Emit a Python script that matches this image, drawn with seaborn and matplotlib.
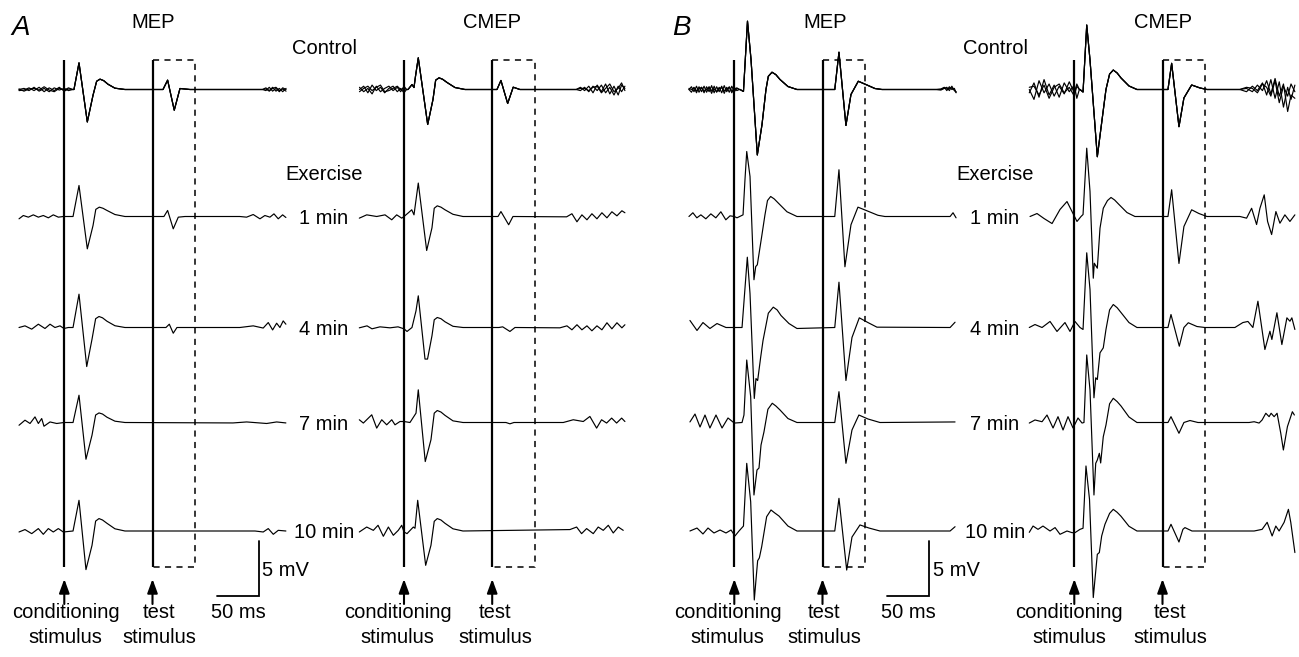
import matplotlib
matplotlib.use("Agg")
import matplotlib.pyplot as plt
import pandas as pd
import seaborn as sns

# ---------------- data (time in ms re conditioning stimulus, amplitude in mV) ----------------
TEST_DELAY = 105.0      # test stimulus (ms after conditioning)
WINDOW_END = 155.5      # end of dashed analysis window (ms)
SCALE_T, SCALE_V = 50, 5

ROWS = ["Control", "1 min", "4 min", "7 min", "10 min"]
PANELS = ["A_MEP", "A_CMEP", "B_MEP", "B_CMEP"]

# ---- Panel A, MEP ----
A_MEP_CTRL_RESP_T = [11.5, 17.5, 27.4, 34.2, 38.5, 42.5, 47, 52, 60.3, 72.2, 117.5, 123, 130.9, 137.7, 149.6]
A_MEP_CTRL_RESP_V = [0, 2.42, -2.95, -0.52, 0.75, 0.94, 0.8, 0.48, 0.12, 0, 0, 0.85, -1.88, 0.09, 0]
A_MEP_CTRL_PRE_T = [-54, -48, -42, -36, -30, -24, -18, -12, -6, 0, 5, 10]
A_MEP_CTRL_PRE_V1 = [0, 0.1, -0.1, 0.2, -0.15, 0.1, -0.2, 0.15, -0.05, 0.1, -0.1, 0]
A_MEP_CTRL_PRE_V2 = [-0.1, -0.05, 0.15, -0.1, 0.2, -0.2, 0.15, -0.1, 0.2, -0.15, 0.05, 0]
A_MEP_CTRL_PRE_V3 = [0.05, -0.15, 0.05, 0.1, -0.05, 0.25, -0.05, -0.2, 0.1, -0.05, 0.15, 0]
A_MEP_CTRL_POST_T = [236, 240, 244, 248, 252, 256, 260, 264]
A_MEP_CTRL_POST_V1 = [0, 0.15, -0.1, 0.2, -0.15, 0.1, -0.2, 0.1]
A_MEP_CTRL_POST_V2 = [0, -0.1, 0.2, -0.15, 0.1, -0.2, 0.15, 0]
A_MEP_CTRL_POST_V3 = [0, 0.05, -0.15, 0.1, 0.2, -0.1, 0.05, -0.15]

A_MEP_1MIN_T = [-53.9, -48.8, -42.8, -36.9, -30.9, -25, -19, -13.1, -7.1, -1.2, 10.4, 17.5, 27.4, 34.2, 37.5, 41.7,
                46, 50.8, 60.3, 72.2, 118.6, 123, 129.7, 135.7, 143.6, 209, 217, 224.9, 232.9, 238.8, 244.8, 249.6,
                254.7, 259.9, 263.8]
A_MEP_1MIN_V = [-0.21, 0.09, -0.06, 0.15, -0.06, 0.09, -0.12, 0.15, -0.06, 0, 0, 2.82, -2.94, -0.82, 0.65, 0.85,
                0.75, 0.55, 0.18, 0, 0, 0.55, -1.12, -0.06, 0, 0, -0.06, 0.18, -0.21, 0.09, -0.06, 0.24, -0.21, 0.15,
                -0.09]
A_MEP_4MIN_T = [-53.9, -46.8, -38.8, -30.9, -23, -17, -11.1, -5.1, -0.4, 4.8, 10.4, 17.5, 26.7, 33, 37.3, 41.3, 45.5,
                50.8, 60.3, 72.2, 121, 125, 129.7, 134.1, 209, 224.9, 236.8, 242.8, 248, 252.8, 256.7, 260.6, 263.8]
A_MEP_4MIN_V = [0, 0.15, -0.15, 0.3, -0.09, 0.3, 0, 0.15, -0.09, 0, 0, 3.03, -3.55, -1.06, 0.8, 1.0, 0.88, 0.57,
                0.16, 0, 0, 0.3, -0.52, 0, 0, 0.15, -0.05, 0.45, -0.22, 0.39, 0, 0.6, 0.3]
A_MEP_7MIN_T = [-53.9, -46.8, -40.8, -34.9, -30.9, -26.9, -24.2, -17, -9, -0.4, 10.4, 17.5, 25.8, 33, 37.3, 41.3,
                45.5, 50.8, 60.3, 72.2, 200.8, 217.1, 240.9, 252.8, 263.8]
A_MEP_7MIN_V = [-0.25, 0.21, -0.09, 0.51, -0.09, 0.36, -0.34, 0.05, -0.09, 0, 0, 2.48, -3.34, -1.15, 0.68, 0.87,
                0.77, 0.48, 0.12, 0, -0.04, 0.05, -0.09, 0.05, -0.04]
A_MEP_10MIN_T = [-53.9, -46.8, -38.8, -30.9, -25, -19, -13.1, -7.1, -1.2, 10.4, 17.5, 25.8, 33, 37.3, 41.3, 45.5,
                 50.8, 60.3, 72.2, 227, 236.8, 242.8, 248.8, 254.7, 263.8]
A_MEP_10MIN_V = [-0.09, 0.13, -0.24, 0.22, -0.3, 0.22, -0.09, 0.22, -0.09, 0, 2.79, -3.51, -1.3, 0.9, 1.13, 1.0,
                 0.7, 0.2, 0, 0, -0.09, 0.22, -0.3, 0.06, 0]

# ---- Panel A, CMEP ----
A_CMEP_CTRL_RESP_T = [4.8, 9.5, 11.9, 13.7, 17, 28.2, 34.5, 37.7, 41.7, 46, 51.2, 60.7, 72.6, 110.7, 115.4, 123.4,
                      130, 138]
A_CMEP_CTRL_RESP_V = [0, 0.45, 0.18, 1.21, 2.88, -3.18, -0.91, 0.85, 1.06, 0.93, 0.64, 0.18, 0, 0, 0.82, -1.27,
                      0.21, 0]
A_CMEP_CTRL_PRE_T = [-53, -48, -43, -38, -33, -28, -23, -18, -13, -8, -4, 0, 3]
A_CMEP_CTRL_PRE_V1 = [0, 0.3, -0.3, 0.4, -0.1, 0.2, -0.3, 0.1, 0.3, -0.2, 0.1, -0.3, 0]
A_CMEP_CTRL_PRE_V2 = [0.2, -0.2, 0.1, -0.4, 0.3, -0.2, 0.1, 0.3, -0.1, 0.2, -0.2, 0.3, 0]
A_CMEP_CTRL_PRE_V3 = [-0.2, 0.1, 0.3, -0.1, 0.2, 0.4, -0.2, -0.1, 0.1, 0.3, 0, 0.1, 0]
A_CMEP_CTRL_POST_T = [205, 210, 215, 220, 225, 230, 235, 240, 245, 250, 255, 259, 263]
A_CMEP_CTRL_POST_V1 = [0, 0.2, -0.1, 0.3, -0.3, 0.4, -0.2, 0.5, -0.4, 0.3, -0.5, 0.4, 0.1]
A_CMEP_CTRL_POST_V2 = [0, -0.1, 0.2, -0.2, 0.3, -0.1, 0.4, -0.3, 0.2, -0.5, 0.3, -0.2, 0.3]
A_CMEP_CTRL_POST_V3 = [0, 0.1, 0.1, -0.1, 0.2, 0.3, -0.3, 0.1, 0.5, -0.2, 0.1, 0.6, -0.1]

A_CMEP_1MIN_T = [-53.2, -44.4, -32.5, -22.6, -14.6, -8.7, -2.7, 0, 4.8, 9.2, 11.9, 17, 27, 33.3, 36, 39.6, 44, 48.8,
                 58.3, 70.2, 111.9, 115.4, 124.6, 129.7, 193.6, 199.9, 205.9, 211.8, 217.8, 223.7, 229.7, 235.6, 241.6,
                 247.5, 253.5, 259.4, 263]
A_CMEP_1MIN_V = [-0.15, 0.15, 0, 0.15, -0.3, 0.15, -0.15, 0, 0.31, 0.61, 0.15, 3.04, -3.09, -1.03, 0.75, 0.97, 0.85,
                 0.61, 0.2, 0, 0, 0.45, -0.75, 0, -0.03, 0.25, -0.48, 0.15, -0.3, 0.25, -0.21, 0.34, -0.12, 0.43,
                 0.06, 0.52, 0.34]
A_CMEP_4MIN_T = [-53.2, -44, -38.1, -28.6, -16.7, -7.1, 0, 3.6, 9.5, 14.3, 17, 25, 28, 33.3, 36, 39.6, 44, 48.8,
                 58.3, 70.2, 113, 117.5, 126.1, 132.1, 185.6, 194, 199.9, 205.9, 211.8, 217.8, 223.7, 229.7, 235.6,
                 241.6, 247.5, 253.5, 259.4, 263]
A_CMEP_4MIN_V = [-0.03, 0.15, -0.12, 0.06, -0.03, 0.06, -0.12, -0.36, 0, 1.52, 2.88, -2.87, -2.87, -0.75, 0.7, 0.91,
                 0.8, 0.52, 0.11, 0, 0, 0.06, -0.36, 0, -0.03, 0.15, -0.21, 0.25, -0.21, 0.15, -0.3, 0.15, -0.21,
                 0.43, -0.12, 0.43, -0.03, 0.25]
A_CMEP_7MIN_T = [-53.2, -48.4, -38.4, -32.5, -26.5, -20.6, -14.6, -10.7, -4.8, 0, 7.1, 14.3, 17, 25.3, 32.1, 36,
                 39.6, 44, 48.8, 58.3, 70.2, 121.4, 126.1, 130.9, 189.6, 201.5, 213.4, 221.3, 229.3, 235.2, 241.2,
                 247.2, 253.1, 259.1, 263]
A_CMEP_7MIN_V = [0.25, -0.05, 0.7, -0.51, 0.25, -0.21, 0.25, -0.21, 0.09, 0.09, 0, 0.85, 2.97, -3.55, -1.57, 0.85,
                 1.09, 0.95, 0.65, 0.15, 0, 0, -0.12, 0, 0, 0.25, 0.09, 0.55, -0.51, 0.25, -0.05, 0.4, -0.05, 0.4,
                 0.09]
A_CMEP_10MIN_T = [-53.2, -44.4, -36.5, -30.9, -24.6, -18.6, -12.7, -6.8, -2.7, 0, 3.6, 11.1, 13.1, 16.3, 25.8, 32.1,
                  36, 39.6, 44, 48.8, 58.3, 70.2, 197.5, 205.5, 211.4, 217.4, 225.3, 231.2, 237.2, 243.2, 249.1,
                  255.1, 261]
A_CMEP_10MIN_V = [-0.09, 0.36, 0.06, 0.52, -0.48, 0.36, -0.39, 0.06, 0.52, -0.09, -0.24, 0.36, 0.25, 2.79, -3.12,
                  -1.3, 0.88, 1.13, 1.0, 0.7, 0.2, 0, 0.13, 0.36, -0.24, 0.22, -0.24, 0.36, 0.06, 0.52, -0.18, 0.36,
                  0.06]

# ---- Panel B, MEP ----
B_MEP_CTRL_RESP_T = [6.8, 10.9, 15.7, 19.9, 27.4, 33, 37.7, 40.5, 44.9, 49.5, 54.4, 63.9, 74.6, 119.6, 124.6, 132.9,
                     138.9, 147.6, 156.7, 167.4, 175.8]
B_MEP_CTRL_RESP_V = [0, -0.18, 6.21, 2.73, -5.95, -3.18, 0, 1.2, 1.57, 1.35, 0.91, 0.27, 0, 0, 3.39, -3.27, -0.45,
                     0.75, 0.45, 0.09, 0]
B_MEP_CTRL_PRE_T = [-54, -51, -48, -45, -42, -39, -36, -33, -30, -27, -24, -21, -18, -15, -12, -9, -6, -3, 0, 3, 6]
B_MEP_CTRL_PRE_V1 = [0, 0.25, -0.2, 0.3, -0.25, 0.2, -0.3, 0.25, -0.2, 0.35, -0.3, 0.25, -0.2, 0.3, -0.35, 0.2,
                     -0.25, 0.3, -0.2, 0.1, 0]
B_MEP_CTRL_PRE_V2 = [0, -0.25, 0.2, -0.3, 0.25, -0.2, 0.3, -0.25, 0.2, -0.35, 0.3, -0.25, 0.2, -0.3, 0.35, -0.2,
                     0.25, -0.3, 0.2, -0.1, 0]
B_MEP_CTRL_PRE_V3 = [0.1, 0, 0.15, -0.1, 0.05, 0.2, -0.15, 0, 0.25, -0.1, 0.05, -0.2, 0.1, 0.15, -0.1, 0.05, 0.2,
                     -0.1, 0, 0.15, 0]
B_MEP_CTRL_POST_T = [240, 246, 250, 253, 256, 259, 262, 264]
B_MEP_CTRL_POST_V1 = [0, 0.05, 0.2, -0.1, 0.25, 0, 0.1, -0.3]
B_MEP_CTRL_POST_V2 = [0, -0.05, 0.1, 0.2, -0.1, 0.3, -0.1, -0.2]
B_MEP_CTRL_POST_V3 = [0, 0, 0.15, 0.05, 0.1, 0.15, -0.05, -0.25]

B_MEP_1MIN_T = [-54, -49.3, -44.6, -39.8, -33.9, -27.9, -22, -16, -10.1, -5.1, 0, 3.2, 10.4, 12.7, 14.8, 18.7,
                23.4, 25.5, 27.4, 32.6, 36.5, 39.5, 43.3, 47.5, 52, 62.7, 74.6, 119.6, 124.6, 131.7, 138.9, 147.2,
                157.9, 171, 179.3, 256.9, 260.4, 264]
B_MEP_1MIN_V = [0, 0.34, -0.12, 0.15, -0.21, 0.24, -0.12, 0.43, -0.3, 0.06, 0, -0.12, 0.15, 3.34, 5.91, 3.64,
                -5.75, -4.55, -4.39, -1.82, 0.15, 1.45, 1.82, 1.6, 1.25, 0.43, 0, 0, 4.25, -4.57, -0.75, 0.85, 0.52,
                0.11, 0, 0, 0.34, -0.12]
B_MEP_4MIN_T = [-52.8, -44.4, -37.3, -29, -20.6, -9.9, 0, 9.2, 15.5, 18.7, 23.8, 25.8, 27.8, 31.4, 34.2, 40.5, 46.4,
                51, 55.6, 65.1, 74.6, 119.6, 124.6, 132.9, 140.1, 148.8, 159.1, 169.8, 256.9, 262.8]
B_MEP_4MIN_V = [0.64, -0.27, 0.45, -0.09, 0.36, 0, 0, 0, 6.39, 3.09, -6.45, -4.64, -4.82, -2.7, -1.18, 1.3, 1.85,
                1.6, 1.09, 0.36, -0.09, 0, 4.12, -4.82, -0.91, 0.88, 0.45, 0.03, 0, 0.48]
B_MEP_7MIN_T = [-52.8, -46.8, -40.8, -34.9, -29, -21.8, -14.6, -7.5, 0, 9.2, 11.5, 14.8, 19.5, 23.4, 27, 29.4,
                31.8, 35.3, 40, 45.2, 49.5, 54.4, 63.9, 74.6, 119.6, 124.6, 132.9, 140.1, 148.3, 159.1, 173.4, 262.8]
B_MEP_7MIN_V = [0.05, 0.77, -0.41, 0.68, -0.5, 0.68, -0.5, 0.41, -0.05, 0, 0.68, 5.68, 2.35, -6.59, -4.32, -4.14,
                -2.05, -0.86, 1.2, 1.75, 1.5, 1.14, 0.36, 0, 0, 2.8, -3.71, -0.68, 0.68, 0.32, 0, 0.05]
B_MEP_10MIN_T = [-52.8, -44.4, -37.3, -31.3, -24.2, -17, -9.9, -3.9, 0.8, 5.6, 10.9, 14.8, 19.5, 23.8, 25.8, 27.8,
                 29.8, 32.6, 38.5, 43.7, 48, 53.2, 63.9, 74.6, 119.6, 124.6, 133.8, 140.1, 149.6, 160.3, 173.4, 256.9,
                 262.8]
B_MEP_10MIN_V = [0, 0.27, -0.27, 0.27, -0.18, 0.09, -0.18, 0.09, -0.45, 0, 0.45, 6.15, 2.66, -6.27, -4.45, -2.7,
                 -2.45, -1.43, 1.3, 1.91, 1.65, 1.36, 0.45, 0, 0, 2.97, -3.55, -0.55, 0.55, 0.27, 0, 0, 0.39]

# ---- Panel B, CMEP ----
B_CMEP_CTRL_RESP_T = [6.8, 10.4, 14.8, 18.7, 27.4, 33, 37.7, 42, 46.4, 51, 55.6, 65.1, 74.6, 111.5, 115.9, 124.6,
                      130.5, 139.7, 149.6, 157.9]
B_CMEP_CTRL_RESP_V = [0, -0.23, 5.86, 2.68, -6.11, -2.77, 0, 1.4, 1.77, 1.5, 1.05, 0.32, 0, 0, 2.38, -3.38, -0.77,
                      0.41, 0.14, 0]
B_CMEP_CTRL_PRE_T = [-53.6, -48, -42, -36, -30, -24, -18, -12, -6, 0, 3, 6]
B_CMEP_CTRL_PRE_V1 = [0, -0.9, 0.8, -0.3, 0.5, -0.6, 0.3, -0.4, 0.7, -0.3, 0.5, 0]
B_CMEP_CTRL_PRE_V2 = [-0.3, 0.6, -0.7, 0.9, -0.5, 0.4, -0.7, 0.6, -0.2, 0.4, -0.8, 0]
B_CMEP_CTRL_PRE_V3 = [0.2, 0.3, -0.5, 0.4, -0.8, 0.2, 0.5, -0.3, 0.2, -0.6, 0.3, 0]
B_CMEP_CTRL_POST_T = [197, 205, 212, 218, 224, 229, 234, 239, 244, 249, 254, 258, 262.6]
B_CMEP_CTRL_POST_V1 = [0, 0.1, -0.2, 0.4, -0.1, 0.8, -0.4, 1.0, -0.6, 0.5, -2.0, -0.5, -0.8]
B_CMEP_CTRL_POST_V2 = [0, -0.2, 0.3, -0.1, 0.6, -0.5, 0.9, -0.8, 0.7, -1.6, 0.2, -0.9, 0.4]
B_CMEP_CTRL_POST_V3 = [0, 0.2, 0.1, -0.3, 0.5, 0.2, -0.6, 0.8, -1.2, 0.3, -0.6, 0.5, -0.2]

B_CMEP_1MIN_T = [-52.7, -44.4, -36.1, -26.5, -17, -8.7, -2.7, 3.2, 8, 10.4, 14.8, 18.7, 22.6, 23.8, 27.4, 30.6, 34.5,
                 39.5, 43.7, 48, 53.2, 62.7, 72.2, 111.5, 115.9, 124.6, 130.5, 139.7, 148.4, 157.9, 197.2, 205.1,
                 211.1, 217, 221, 226.1, 230.1, 234.9, 240, 244.8, 250.7, 256.7, 262.6]
B_CMEP_1MIN_V = [0, 0.27, -0.18, -0.64, 0.64, 1.36, 0.45, -0.45, 0, 0.18, 6.21, 2.27, -5.61, -4.25, -4.7, -1.06,
                 0.75, 1.45, 1.73, 1.5, 1.09, 0.36, 0, 0, 2.43, -4.27, -0.91, 0.61, 0.27, 0, 0, -0.15, 0.75, -0.73,
                 0.75, 1.97, -0.45, -1.64, 0.45, -0.61, 0.15, -0.45, 0.15]
B_CMEP_4MIN_T = [-53.6, -46.8, -38.4, -28.9, -20.6, -11.1, -5.1, 0.8, 6.8, 10.4, 14.8, 18.7, 23.4, 25.5, 27.4, 30.6,
                 34.5, 37.7, 42, 46.4, 51, 55.6, 65.1, 74.6, 111.5, 115.1, 125, 130.5, 135.7, 146, 155.5, 191.2,
                 200.7, 206.7, 212.6, 218.6, 226.9, 232.9, 235.2, 241.2, 247.1, 253.1, 256.7, 259, 262.6]
B_CMEP_4MIN_V = [0, 0.27, 0, 0.55, -0.36, 0.45, -0.36, 0.55, 0, -0.18, 6.79, 3.45, -6.39, -4.57, -4.73, -2.3, -1.85,
                 -0.18, 1.6, 2.09, 1.8, 1.36, 0.45, 0, 0, 1.18, -1.7, 0, 0.43, 0.09, 0, 0, 0.45, 0.55, 0, 2.39, -2,
                 -0.34, -1.09, 1.34, -1.55, 0.88, 0.57, 0.88, -0.18]
B_CMEP_7MIN_T = [-53.6, -46.8, -38.4, -32.5, -25.3, -19.4, -13.4, -7.5, -1.5, 4.4, 9.2, 11.5, 14.8, 18.7, 23.4, 25.5,
                 27.4, 29.8, 31.4, 34.5, 37.7, 42, 46.4, 51, 55.6, 65.1, 74.6, 111.5, 115.1, 124.6, 130.5, 137.7,
                 147.2, 208.1, 214.1, 220, 223.6, 228, 231.9, 234.3, 237.9, 241.4, 245.8, 248.9, 253.7, 259.6, 262]
B_CMEP_7MIN_V = [-0.05, 0.23, 0.07, 0.68, -0.5, 0.53, -0.68, 0.53, -0.5, 0.41, -0.05, 0, 6.14, 2.95, -6.59, -3.71,
                 -3.41, -2.8, -3.68, -1.29, -0.23, 1.7, 2.2, 1.9, 1.5, 0.5, 0, 0, 0.53, -0.98, 0, 0.18, 0, 0, 0.07,
                 -0.05, 0.23, 0.84, 0.53, 0.84, 0.53, 0.84, -0.98, -2.5, -0.38, 0.98, 0.68]
B_CMEP_10MIN_T = [-53.6, -49.1, -43.2, -37.3, -28.9, -22.9, -17, -8.7, -2.7, 0.8, 6.8, 10.4, 13.9, 18.1, 22.6, 24.6,
                  27.4, 29.8, 32.6, 36.5, 42, 46.4, 51, 55.6, 65.1, 74.6, 111.5, 115.1, 124.6, 129.3, 131.7, 140.1,
                  214.1, 223.6, 229.6, 235.5, 239.9, 243.8, 249.8, 254.9, 257.7, 262.6]
B_CMEP_10MIN_V = [-0.12, 0.45, 0.15, 0.45, 0, 0.31, -0.3, 0, -0.15, -0.15, 0.15, 0.25, 5.91, 2.88, -6.05, -4.39,
                  -2.12, -1.96, -0.45, 0.61, 1.6, 1.97, 1.7, 1.34, 0.43, 0, 0, 0.61, -1.0, 0.15, 0.31, 0, 0, 0.15,
                  0.79, -0.45, 0.45, 0, 0.79, 1.97, 0.79, -1.96]

# ---------------- assemble long table ----------------
records = []


def add(panel, row, sweep, t, v):
    assert len(t) == len(v), (panel, row, sweep, len(t), len(v))
    for ti, vi in zip(t, v):
        records.append((panel, row, f"{panel}|{row}|{sweep}", ti, vi))


ctrl = {
    "A_MEP": (A_MEP_CTRL_PRE_T, [A_MEP_CTRL_PRE_V1, A_MEP_CTRL_PRE_V2, A_MEP_CTRL_PRE_V3],
              A_MEP_CTRL_RESP_T, A_MEP_CTRL_RESP_V,
              A_MEP_CTRL_POST_T, [A_MEP_CTRL_POST_V1, A_MEP_CTRL_POST_V2, A_MEP_CTRL_POST_V3]),
    "A_CMEP": (A_CMEP_CTRL_PRE_T, [A_CMEP_CTRL_PRE_V1, A_CMEP_CTRL_PRE_V2, A_CMEP_CTRL_PRE_V3],
               A_CMEP_CTRL_RESP_T, A_CMEP_CTRL_RESP_V,
               A_CMEP_CTRL_POST_T, [A_CMEP_CTRL_POST_V1, A_CMEP_CTRL_POST_V2, A_CMEP_CTRL_POST_V3]),
    "B_MEP": (B_MEP_CTRL_PRE_T, [B_MEP_CTRL_PRE_V1, B_MEP_CTRL_PRE_V2, B_MEP_CTRL_PRE_V3],
              B_MEP_CTRL_RESP_T, B_MEP_CTRL_RESP_V,
              B_MEP_CTRL_POST_T, [B_MEP_CTRL_POST_V1, B_MEP_CTRL_POST_V2, B_MEP_CTRL_POST_V3]),
    "B_CMEP": (B_CMEP_CTRL_PRE_T, [B_CMEP_CTRL_PRE_V1, B_CMEP_CTRL_PRE_V2, B_CMEP_CTRL_PRE_V3],
               B_CMEP_CTRL_RESP_T, B_CMEP_CTRL_RESP_V,
               B_CMEP_CTRL_POST_T, [B_CMEP_CTRL_POST_V1, B_CMEP_CTRL_POST_V2, B_CMEP_CTRL_POST_V3]),
}
for p, (pre_t, pre_vs, rt, rv, post_t, post_vs) in ctrl.items():
    for k, (pv, qv) in enumerate(zip(pre_vs, post_vs)):
        add(p, "Control", k, pre_t + rt + post_t, pv + rv + qv)

exercise = {
    ("A_MEP", "1 min"): (A_MEP_1MIN_T, A_MEP_1MIN_V), ("A_MEP", "4 min"): (A_MEP_4MIN_T, A_MEP_4MIN_V),
    ("A_MEP", "7 min"): (A_MEP_7MIN_T, A_MEP_7MIN_V), ("A_MEP", "10 min"): (A_MEP_10MIN_T, A_MEP_10MIN_V),
    ("A_CMEP", "1 min"): (A_CMEP_1MIN_T, A_CMEP_1MIN_V), ("A_CMEP", "4 min"): (A_CMEP_4MIN_T, A_CMEP_4MIN_V),
    ("A_CMEP", "7 min"): (A_CMEP_7MIN_T, A_CMEP_7MIN_V), ("A_CMEP", "10 min"): (A_CMEP_10MIN_T, A_CMEP_10MIN_V),
    ("B_MEP", "1 min"): (B_MEP_1MIN_T, B_MEP_1MIN_V), ("B_MEP", "4 min"): (B_MEP_4MIN_T, B_MEP_4MIN_V),
    ("B_MEP", "7 min"): (B_MEP_7MIN_T, B_MEP_7MIN_V), ("B_MEP", "10 min"): (B_MEP_10MIN_T, B_MEP_10MIN_V),
    ("B_CMEP", "1 min"): (B_CMEP_1MIN_T, B_CMEP_1MIN_V), ("B_CMEP", "4 min"): (B_CMEP_4MIN_T, B_CMEP_4MIN_V),
    ("B_CMEP", "7 min"): (B_CMEP_7MIN_T, B_CMEP_7MIN_V), ("B_CMEP", "10 min"): (B_CMEP_10MIN_T, B_CMEP_10MIN_V),
}
for (p, r), (t, v) in exercise.items():
    add(p, r, 0, t, v)

df = pd.DataFrame(records, columns=["panel", "row", "uid", "t", "v"])

# ---------------- layout (pixel geometry of the figure) ----------------
FIG_W, FIG_H = 1299, 657
MS_PER_PX = 50 / 42.0
PX_PER_MV = 11.0
COND_PX = {"A_MEP": 64.3, "A_CMEP": 404.0, "B_MEP": 734.3, "B_CMEP": 1074.3}
ROW_PX = {"Control": 89.5, "1 min": 216.5, "4 min": 327.5, "7 min": 422.5, "10 min": 531.0}
LINE_TOP, LINE_BOT = 60, 567


def X(px):
    return px * MS_PER_PX


def Y(py):
    return (FIG_H - py) / PX_PER_MV


df["x"] = df["panel"].map(lambda p: X(COND_PX[p])) + df["t"]
df["y"] = df["row"].map(lambda r: Y(ROW_PX[r])) + df["v"]

# ---------------- drawing ----------------
sns.set_theme(style="white")
plt.rcParams["font.family"] = ["Liberation Sans", "DejaVu Sans"]
plt.rcParams["text.color"] = "black"
FS = 14.5

fig = plt.figure(figsize=(FIG_W / 100, FIG_H / 100), dpi=100)
ax = fig.add_axes([0, 0, 1, 1])

sns.lineplot(data=df, x="x", y="y", units="uid", estimator=None, sort=False,
             color="black", linewidth=0.85, legend=False, ax=ax)

for p in PANELS:
    x0 = X(COND_PX[p])
    ax.vlines([x0, x0 + TEST_DELAY], Y(LINE_BOT), Y(LINE_TOP), color="black", lw=1.6)
    ax.plot([x0 + TEST_DELAY, x0 + WINDOW_END, x0 + WINDOW_END, x0 + TEST_DELAY],
            [Y(LINE_TOP), Y(LINE_TOP), Y(LINE_BOT), Y(LINE_BOT)],
            color="black", lw=1.1, ls=(0, (4, 3.5)))
    for xa in (x0, x0 + TEST_DELAY):
        ax.annotate("", xy=(xa, Y(579)), xytext=(xa, Y(604)),
                    arrowprops=dict(arrowstyle="-|>,head_length=0.6,head_width=0.22", color="black",
                                    lw=1.5, mutation_scale=14, shrinkA=0, shrinkB=0))

# stimulus labels (centre x in px)
STIM_LABELS = [(65.8, 159.0), (397.5, 495.0), (727.5, 824.0), (1069.0, 1170.0)]
for cx, tx in STIM_LABELS:
    ax.text(X(cx), Y(618.5), "conditioning", ha="center", va="baseline", fontsize=FS)
    ax.text(X(cx), Y(643), "stimulus", ha="center", va="baseline", fontsize=FS)
    ax.text(X(tx), Y(618.5), "test", ha="center", va="baseline", fontsize=FS)
    ax.text(X(tx), Y(643), "stimulus", ha="center", va="baseline", fontsize=FS)

# headers
for letter, lx, mep_x, cmep_x, lab_x in [("A", 21, 153, 492, 324), ("B", 681, 825, 1162.7, 995)]:
    ax.text(X(lx), Y(35), letter, ha="center", va="baseline", fontsize=20, style="italic")
    ax.text(X(mep_x), Y(28.5), "MEP", ha="center", va="baseline", fontsize=FS)
    ax.text(X(cmep_x), Y(28.5), "CMEP", ha="center", va="baseline", fontsize=FS)
    ax.text(X(lab_x), Y(53.5), "Control", ha="center", va="baseline", fontsize=FS)
    ax.text(X(lab_x), Y(180), "Exercise", ha="center", va="baseline", fontsize=FS)
    for r in ROWS[1:]:
        ax.text(X(lab_x), Y(ROW_PX[r] + 7.5), r, ha="center", va="baseline", fontsize=FS)

# scale bars
for cx_px, txt_mv_px, txt_ms_px in [(259.3, 262, 238), (929.3, 932.5, 908)]:
    xc, yc = X(cx_px), Y(596)
    ax.plot([xc - SCALE_T, xc, xc], [yc, yc, yc + SCALE_V], color="black", lw=1.3,
            solid_joinstyle="miter")
    ax.text(X(txt_mv_px), Y(576.5), f"{SCALE_V} mV", ha="left", va="baseline", fontsize=FS)
    ax.text(X(txt_ms_px), Y(618.5), f"{SCALE_T} ms", ha="center", va="baseline", fontsize=FS)

ax.set_xlim(0, X(FIG_W))
ax.set_ylim(0, Y(0))
ax.set_axis_off()

fig.savefig("out.png", dpi=100, facecolor="white")
